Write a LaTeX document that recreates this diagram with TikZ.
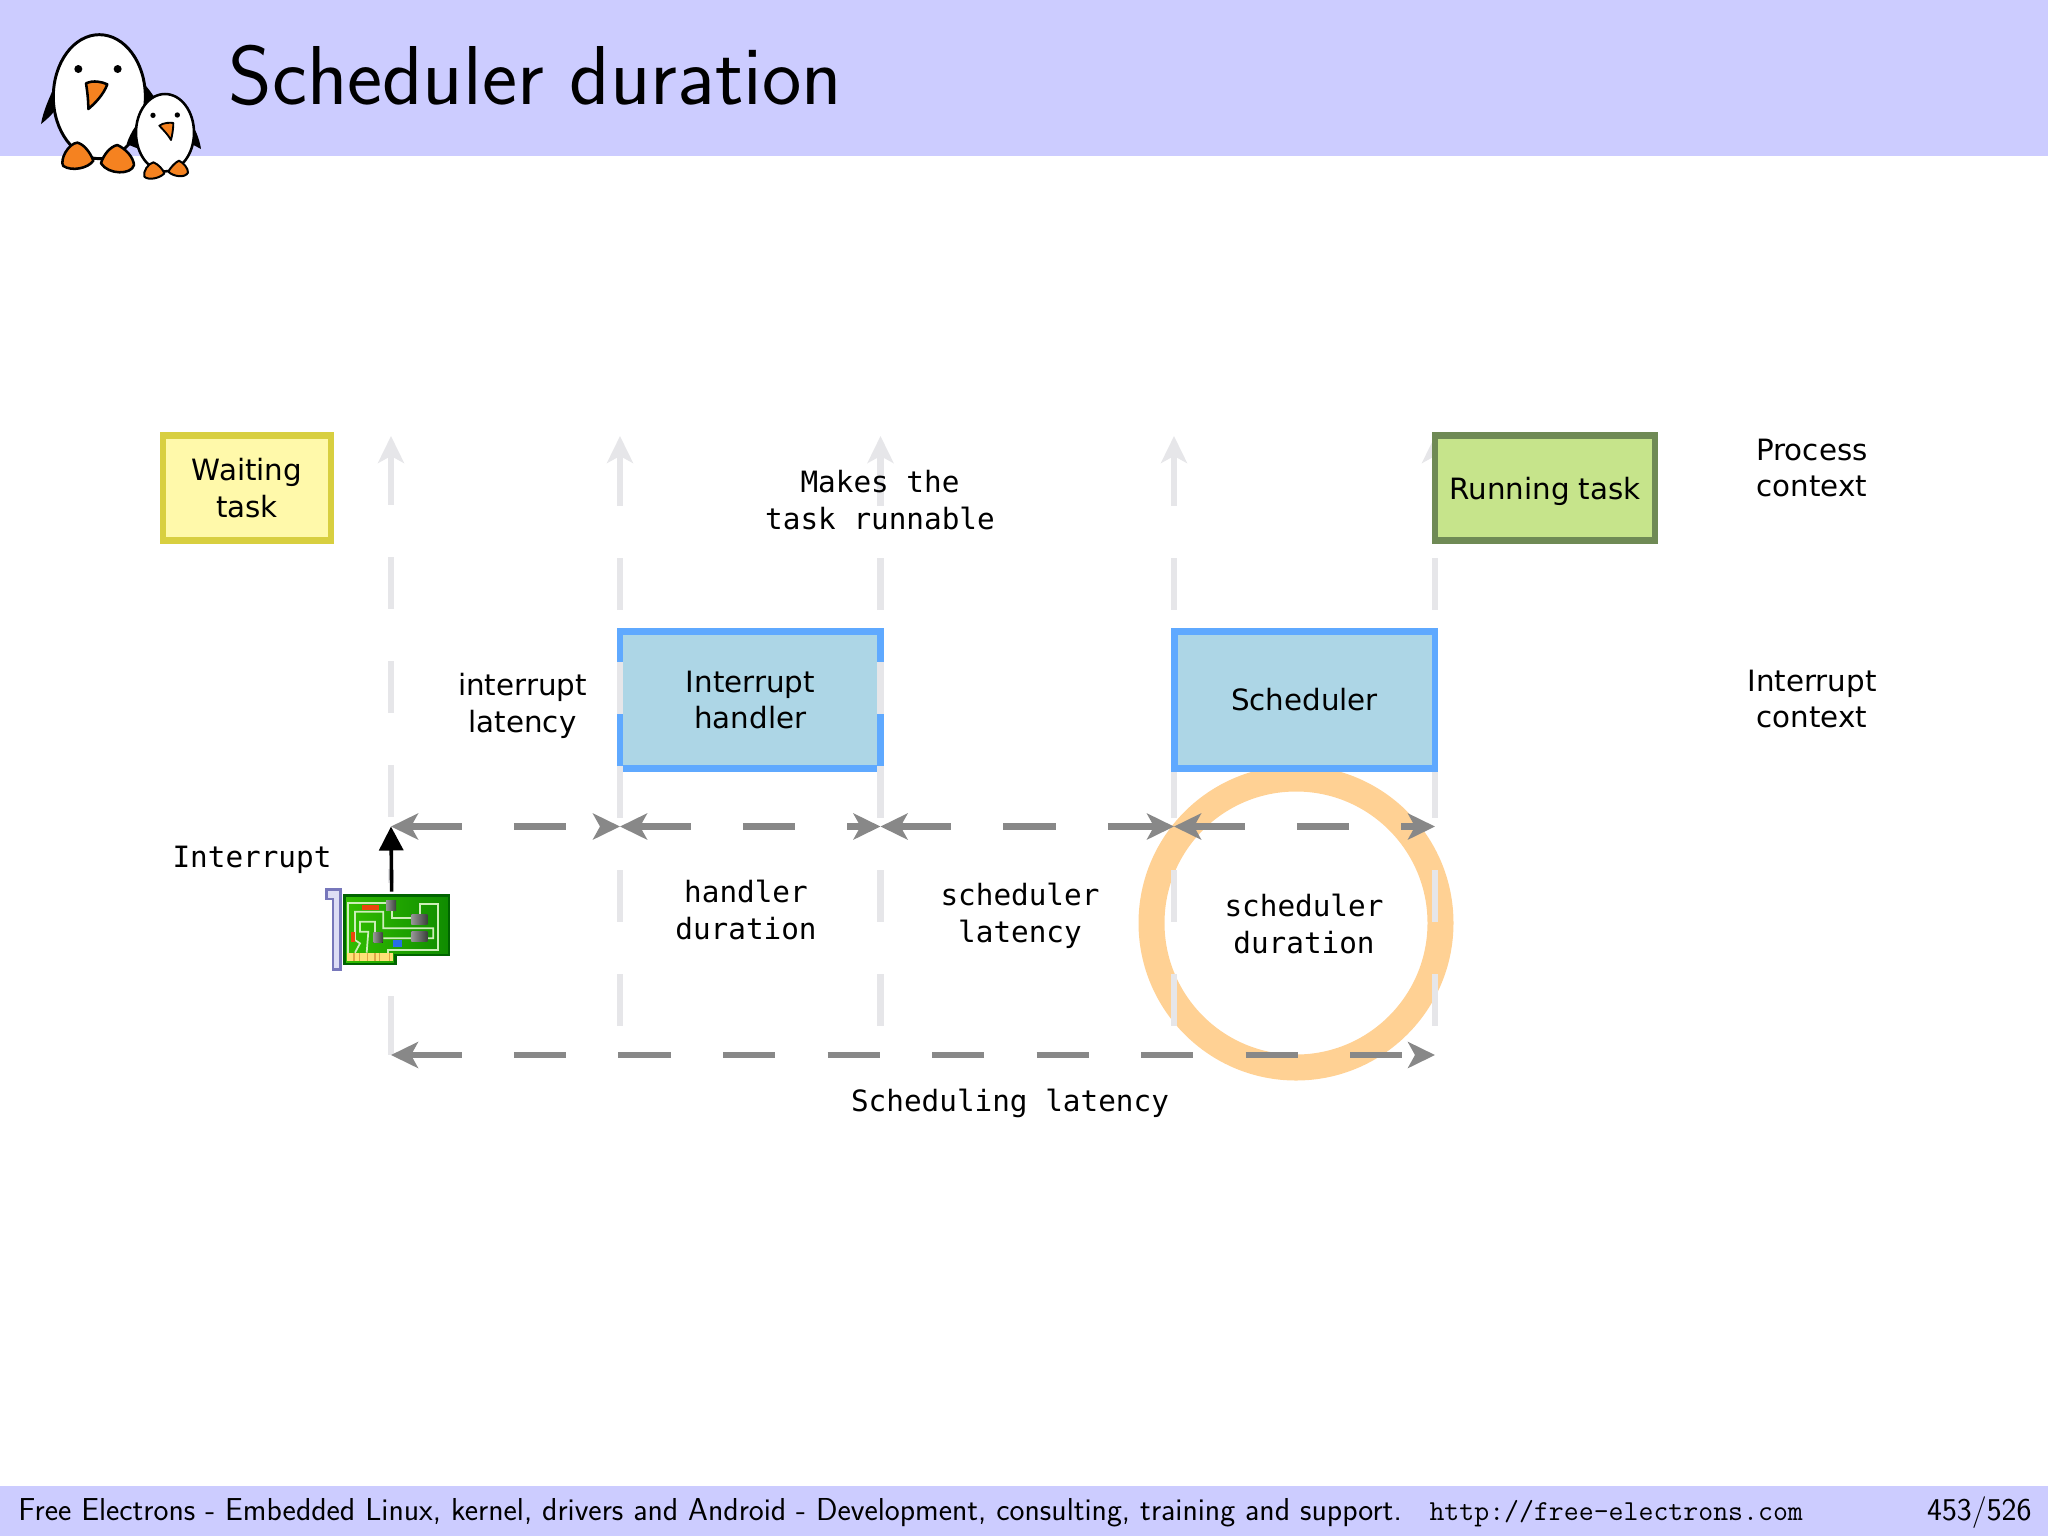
\documentclass[tikz,border=0pt]{standalone}
\usepackage{fontspec}
\usetikzlibrary{arrows.meta}
\newfontfamily\boxfont{DejaVu Sans}
\newfontfamily\codefont{DejaVu Sans Mono}

\tikzset{every picture/.style={line width=0.75pt}}
\tikzset{
  headtip/.tip={Stealth[length=20.25pt,width=19.5pt,inset=5.25pt]},
  boxtext/.style={align=center,inner sep=0.75pt,font=\boxfont\fontsize{22}{27.4}\selectfont},
  codetext/.style={align=center,inner sep=0.75pt,font=\codefont\fontsize{22}{27.4}\selectfont},
  taskbox/.style={boxtext,draw,line width=5pt,minimum width=#1},
  waitbox/.style={taskbox=126pt,minimum height=78.5pt,draw={rgb, 255:red, 216; green, 207; blue, 64 },fill={rgb, 255:red, 255; green, 249; blue, 170 }},
  runbox/.style={taskbox=165pt,minimum height=78.5pt,text depth=0pt,draw={rgb, 255:red, 111; green, 138; blue, 85 },fill={rgb, 255:red, 198; green, 228; blue, 139 }},
  irqbox/.style={taskbox=#1,minimum height=102.5pt,draw={rgb, 255:red, 95; green, 169; blue, 255 },fill={rgb, 255:red, 173; green, 214; blue, 230 }},
  timeline/.style={draw={rgb, 255:red, 230; green, 230; blue, 233 },line width=5pt,dash pattern=on 39pt off 39pt,-headtip},
  stubline/.style={draw={rgb, 255:red, 230; green, 230; blue, 233 },line width=5pt},
  span/.style={draw={rgb, 255:red, 136; green, 136; blue, 136 },line width=5pt,dash pattern=on 39.2pt off 39.2pt,headtip-headtip},
  outline/.style={draw=black,line width=1.9pt,line join=round},
  beak/.style={outline,fill={rgb, 255:red, 245; green, 130; blue, 32 }},
  trace/.style={draw={rgb, 255:red, 205; green, 238; blue, 185 },line width=1.3pt},
  chip/.style={left color={rgb, 255:red, 150; green, 150; blue, 150 },right color={rgb, 255:red, 60; green, 65; blue, 60 }}
}

\begin{document}
\begin{tikzpicture}[x=0.75pt,y=0.75pt,yscale=-1,xscale=1]
\useasboundingbox (0,0) rectangle (2048,1536);

%Shape: Rectangle
\fill [color={rgb, 255:red, 204; green, 204; blue, 255 }] (0,0) rectangle (2048,156);
\fill [color={rgb, 255:red, 204; green, 204; blue, 255 }] (0,1486) rectangle (2048,1536);

%Penguins
\begin{scope}[scale=1/3]
\fill (165,255) .. controls (150,290) and (130,330) .. (123,372) .. controls (145,355) and (165,335) .. (175,315) -- cycle;
\fill (435,255) .. controls (445,265) and (455,280) .. (462,290) -- (430,320) -- cycle;
\draw [outline,fill=white,line width=2.2pt] (298,290) ellipse (138 and 186);
\fill (235,207) circle (12);
\fill (353,207) circle (12);
\draw [beak] (258,250) .. controls (280,240) and (305,245) .. (322,253) .. controls (310,285) and (285,310) .. (265,327) .. controls (265,300) and (262,275) .. (258,250) -- cycle;
\draw [beak] (232,428) .. controls (250,432) and (270,455) .. (280,482) .. controls (265,505) and (215,515) .. (190,498) .. controls (178,480) and (205,430) .. (232,428) -- cycle;
\draw [beak] (352,435) .. controls (375,445) and (400,470) .. (402,495) .. controls (395,525) and (325,525) .. (303,490) .. controls (310,465) and (330,440) .. (352,435) -- cycle;
\fill (407,378) .. controls (395,395) and (385,415) .. (380,432) -- (412,445) -- cycle;
\fill (578,378) .. controls (590,395) and (600,425) .. (603,447) .. controls (595,442) and (585,438) .. (575,432) -- cycle;
\draw [outline,fill=white] (495,398) ellipse (87 and 116);
\fill (459,346) circle (8);
\fill (532,345) circle (8);
\draw [beak,line width=1.4pt] (478,377) .. controls (490,368) and (510,367) .. (520,369) .. controls (520,385) and (517,405) .. (513,420) .. controls (505,405) and (490,390) .. (478,377) -- cycle;
\draw [beak,line width=1.5pt] (460,487) .. controls (475,492) and (490,510) .. (493,520) .. controls (480,535) and (445,542) .. (433,530) .. controls (428,515) and (445,490) .. (460,487) -- cycle;
\draw [beak,line width=1.5pt] (537,482) .. controls (550,488) and (565,505) .. (564,518) .. controls (555,535) and (520,530) .. (505,515) .. controls (510,505) and (525,487) .. (537,482) -- cycle;
\end{scope}

% Text Node
\node (title) [anchor=west,inner sep=0.75pt,font=\sffamily\fontsize{62.7}{70}\selectfont] at (227,75) {Scheduler duration};

%Shape: Circle
\draw [color={rgb, 255:red, 255; green, 209; blue, 148 },line width=19.5pt] (1296,923) circle (144.5);

%Coordinates of the time lines
\foreach \n/\x in {1/391,2/620,3/880.5,4/1174,5/1435}{
  \coordinate (top\n) at (\x,436);
  \coordinate (low\n) at (\x,1026);
  \coordinate (mid\n) at (\x,826.5);
  \coordinate (end\n) at (\x,1055);
}
\coordinate (start1) at (391,921);
\coordinate (stub1) at (391,996);

%Straight Lines
\draw [timeline] (low4) -- (top4);
\draw [timeline] (low5) -- (top5);

\node (sched) [irqbox=195.5pt] at (1304.5,700) {Scheduler};
\node (running) [runbox] at (1545,488) {Running task};
\node (waiting) [waitbox] at (247,488) {Waiting\\task};
\node (handler) [irqbox=195.5pt] at (750.3,700) {Interrupt\\handler};

%Straight Lines
\draw [timeline] (start1) -- (top1);
\draw [timeline] (low2) -- (top2);
\draw [timeline] (low3) -- (top3);
\draw [stubline] (stub1) -- (end1);

%Straight Lines
\draw [span] (mid1) -- (mid2);
\draw [span] (mid2) -- (mid3);
\draw [span] (mid3) -- (mid4);
\draw [span] (mid4) -- (mid5);
\draw [span] (end1) -- (end5);

%Network card
\begin{scope}[shift={(150,800)},scale=1/3]
\fill [color=white] (505,250) rectangle (940,560);
\draw [draw={rgb, 255:red, 119; green, 119; blue, 187 },fill={rgb, 255:red, 221; green, 221; blue, 245 },line width=1.9pt] (530,269) -- (571,269) -- (571,508) -- (549,508) -- (549,297) -- (530,297) -- cycle;
\draw [draw={rgb, 255:red, 0; green, 100; blue, 0 },left color={rgb, 255:red, 50; green, 190; blue, 0 },right color={rgb, 255:red, 15; green, 140; blue, 0 },line width=1.9pt] (583,287) -- (897,287) -- (897,465) -- (737,465) -- (737,492) -- (583,492) -- cycle;
\draw [trace] (595,458) -- (595,310) -- (710,310);
\draw [trace] (615,458) -- (630,430) -- (615,420) -- (615,335) -- (700,335) -- (700,385) -- (850,385) -- (850,415) -- (700,415);
\draw [trace] (650,458) -- (655,395) -- (630,395) -- (630,365) -- (675,365) -- (675,410);
\draw [trace] (725,330) -- (725,355) -- (790,355);
\draw [trace] (810,345) -- (810,312) -- (865,312) -- (865,450) -- (715,450) -- (715,458);
\fill [color={rgb, 255:red, 255; green, 225; blue, 120 }] (590,458) rectangle (730,484);
\foreach \x in {610,626,650,672,686,716}{
  \fill [color={rgb, 255:red, 225; green, 165; blue, 70 }] (\x,460) rectangle ++(5,24);
}
\fill [color={rgb, 255:red, 235; green, 70; blue, 10 }] (636,316) rectangle (688,330);
\fill [color={rgb, 255:red, 235; green, 70; blue, 10 }] (603,396) rectangle (614,426);
\fill [color={rgb, 255:red, 40; green, 110; blue, 230 }] (730,420) rectangle (755,442);
\fill [chip] (708,302) rectangle (738,332);
\fill [chip] (784,342) rectangle (832,372);
\fill [chip] (670,398) rectangle (698,428);
\fill [chip] (784,394) rectangle (832,424);
\coordinate (cardtop) at (725,275);
\end{scope}

%Straight Lines
\draw [line width=2.7pt,-{Triangle[length=18pt,width=18pt]}] (cardtop) -- (mid1);

% Text Node
\node (process) [boxtext] at (1812,468) {Process\\context};
% Text Node
\node (intctx) [boxtext] at (1812,699) {Interrupt\\context};
% Text Node
\node (intlat) [boxtext] at (522.5,706) {interrupt\\latency};
% Text Node
\node (makes) [codetext] at (880,500) {Makes the\\task runnable};
% Text Node
\node (interrupt) [codetext] at (252,859.5) {Interrupt};
% Text Node
\node (handdur) [codetext] at (746,910) {handler\\duration};
% Text Node
\node (schedlat) [codetext] at (1020,916) {scheduler\\latency};
% Text Node
\node (scheddur) [codetext] at (1304,924) {scheduler\\duration};
% Text Node
\node (total) [codetext] at (1010,1103.5) {Scheduling latency};

% Text Node
\node (footer) [anchor=base west,inner sep=0pt,font=\sffamily\fontsize{23.8}{26}\selectfont] at (18,1520) {Free Electrons - Embedded Linux, kernel, drivers and Android - Development, consulting, training and support.};
% Text Node
\node (url) [anchor=base west,inner sep=0pt,font=\ttfamily\fontsize{21.75}{24}\selectfont] at (1429,1520) {http://free-electrons.com};
% Text Node
\node (page) [anchor=base east,inner sep=0pt,font=\sffamily\fontsize{23.8}{26}\selectfont] at (2032,1520) {453/526};

\end{tikzpicture}
\end{document}
